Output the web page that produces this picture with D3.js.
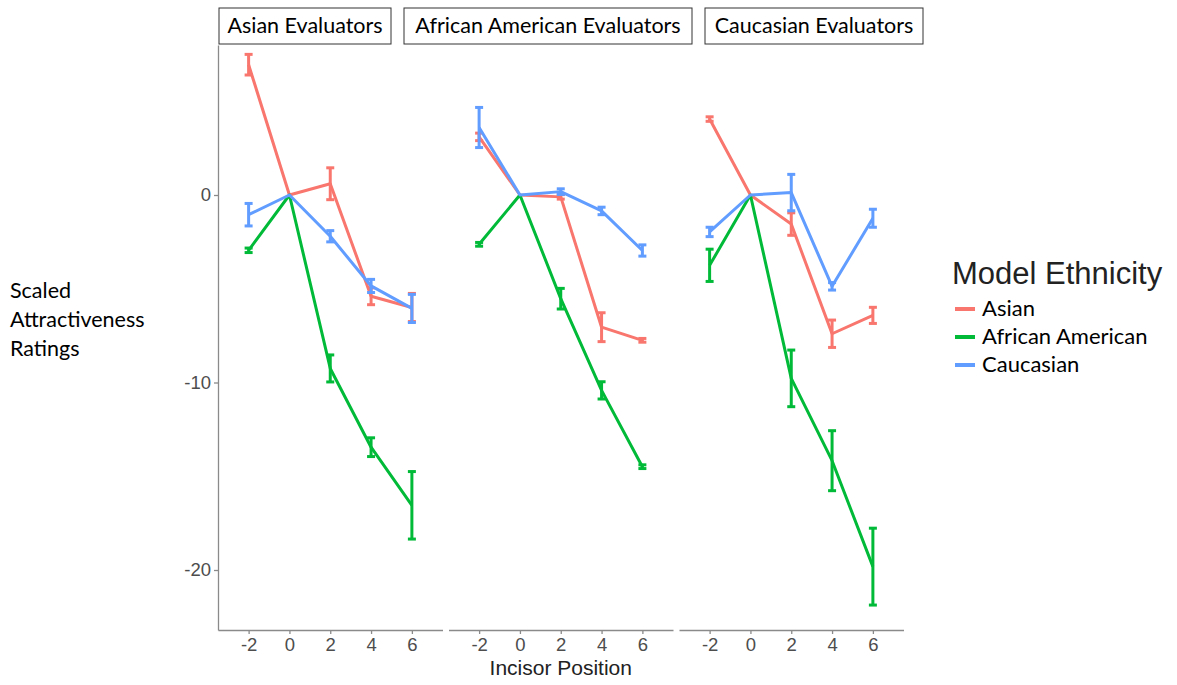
<!DOCTYPE html>
<html>
<head>
<meta charset="utf-8">
<script src="https://cdn.jsdelivr.net/npm/d3@7"></script>
<style>
  html, body { margin: 0; padding: 0; background: #fff; }
  svg { display: block; }
</style>
</head>
<body>
<svg id="chart" width="1177" height="685"></svg>
<script>
// Facets, x positions and series
const evaluators = ["Asian Evaluators", "African American Evaluators", "Caucasian Evaluators"];
const incisorPositions = [-2, 0, 2, 4, 6];
const modelEthnicities = ["Asian", "African American", "Caucasian"];
const ethnicityColors = ["#F8766D", "#00BA38", "#619CFF"];
const yTicks = [0, -10, -20];

// Mean scaled ratings, one row per model ethnicity (Asian, African American, Caucasian)
const meansAsianEval = [
  [6.95, 0, 0.6, -5.4, -6.0],
  [-2.95, 0, -9.25, -13.45, -16.55],
  [-1.05, 0, -2.2, -4.85, -6.05]
];
const errAsianEval = [
  [0.55, 0, 0.85, 0.45, 0.75],
  [0.12, 0, 0.72, 0.5, 1.8],
  [0.6, 0, 0.3, 0.35, 0.75]
];
const meansAfricanAmericanEval = [
  [3.1, 0, -0.1, -7.05, -7.75],
  [-2.63, 0, -5.53, -10.42, -14.49],
  [3.6, 0, 0.18, -0.85, -2.96]
];
const errAfricanAmericanEval = [
  [0.2, 0, 0.12, 0.77, 0.1],
  [0.1, 0, 0.55, 0.46, 0.1],
  [1.07, 0, 0.15, 0.2, 0.3]
];
const meansCaucasianEval = [
  [4.05, 0, -1.55, -7.4, -6.42],
  [-3.75, 0, -9.78, -14.17, -19.82],
  [-1.97, 0, 0.13, -4.87, -1.24]
];
const errCaucasianEval = [
  [0.12, 0, 0.6, 0.73, 0.43],
  [0.86, 0, 1.51, 1.6, 2.05],
  [0.25, 0, 0.97, 0.2, 0.48]
];

const panelMeans = [meansAsianEval, meansAfricanAmericanEval, meansCaucasianEval];
const panelErrs = [errAsianEval, errAfricanAmericanEval, errCaucasianEval];

// Layout
const svg = d3.select("#chart");
const panelTop = 45, panelBottom = 630;
const panelLefts = [218, 448.5, 679];
const panelWidth = 224.5;
const axisColor = "#8a8a8a";
const tickTextColor = "#4d4d4d";
const sansFont = "'Liberation Sans', Arial, sans-serif";
const labelFont = "Lato, 'Open Sans', sans-serif";
const plainNumber = d => String(d); // ASCII hyphen for negatives

const y = d3.scaleLinear().domain([-23.2, 8.0]).range([panelBottom, panelTop]);

evaluators.forEach((name, p) => {
  const x = d3.scaleLinear().domain([-3.5, 7.5]).range([panelLefts[p], panelLefts[p] + panelWidth]);
  const g = svg.append("g");

  // x axis
  const xAxis = d3.axisBottom(x).tickValues(incisorPositions).tickFormat(plainNumber)
    .tickSize(4).tickPadding(4).tickSizeOuter(0);
  const gx = g.append("g").attr("transform", `translate(0,${panelBottom})`).call(xAxis);
  gx.select(".domain").attr("stroke", axisColor).attr("stroke-width", 1.3);
  gx.selectAll(".tick line").attr("stroke", axisColor).attr("stroke-width", 1.3);
  gx.selectAll(".tick text")
    .attr("fill", tickTextColor)
    .style("font-family", sansFont)
    .style("font-size", "18.5px");

  // y axis on the first panel only
  if (p === 0) {
    const yAxis = d3.axisLeft(y).tickValues(yTicks).tickFormat(plainNumber)
      .tickSize(4).tickPadding(3).tickSizeOuter(0);
    const gy = g.append("g").attr("transform", `translate(${panelLefts[0]},0)`).call(yAxis);
    gy.select(".domain").attr("stroke", axisColor).attr("stroke-width", 1.3);
    gy.selectAll(".tick line").attr("stroke", axisColor).attr("stroke-width", 1.3);
    gy.selectAll(".tick text")
      .attr("fill", tickTextColor)
      .style("font-family", sansFont)
      .style("font-size", "18.5px");
  }

  const line = d3.line().x((d, i) => x(incisorPositions[i])).y(d => y(d));

  modelEthnicities.forEach((eth, s) => {
    const means = panelMeans[p][s];
    const errs = panelErrs[p][s];
    const color = ethnicityColors[s];

    g.append("path")
      .datum(means)
      .attr("d", line)
      .attr("fill", "none")
      .attr("stroke", color)
      .attr("stroke-width", 3)
      .attr("stroke-linejoin", "round");

    const bars = g.append("g");
    means.forEach((m, i) => {
      const e = errs[i];
      if (e <= 0) return;
      const cx = x(incisorPositions[i]);
      const y1 = y(m + e), y2 = y(m - e);
      bars.append("line").attr("x1", cx).attr("x2", cx).attr("y1", y1).attr("y2", y2)
        .attr("stroke", color).attr("stroke-width", 3);
      [y1, y2].forEach(yy => {
        bars.append("line").attr("x1", cx - 4).attr("x2", cx + 4).attr("y1", yy).attr("y2", yy)
          .attr("stroke", color).attr("stroke-width", 3);
      });
    });
  });
});

// Facet strip labels in boxes
const strips = [
  { x0: 219, x1: 391 },
  { x0: 404, x1: 692 },
  { x0: 705, x1: 923 }
];
evaluators.forEach((name, p) => {
  const s = strips[p];
  svg.append("rect")
    .attr("x", s.x0).attr("y", 8).attr("width", s.x1 - s.x0).attr("height", 36)
    .attr("fill", "#fff").attr("stroke", "#333").attr("stroke-width", 1);
  svg.append("text")
    .attr("x", (s.x0 + s.x1) / 2).attr("y", 33)
    .attr("text-anchor", "middle")
    .style("font-family", labelFont).style("font-size", "21.5px").attr("fill", "#000")
    .text(name);
});

// Axis titles
svg.append("text")
  .attr("x", (panelLefts[0] + panelLefts[2] + panelWidth) / 2).attr("y", 675)
  .attr("text-anchor", "middle")
  .style("font-family", sansFont).style("font-size", "21px").attr("fill", "#222")
  .text("Incisor Position");

const yTitle = svg.append("text")
  .style("font-family", labelFont).style("font-size", "21.5px").attr("fill", "#000");
["Scaled", "Attractiveness", "Ratings"].forEach((t, i) => {
  yTitle.append("tspan").attr("x", 10).attr("y", 298 + i * 29).text(t);
});

// Legend
const legend = svg.append("g");
legend.append("text")
  .attr("x", 952).attr("y", 284)
  .style("font-family", sansFont).style("font-size", "31px").attr("fill", "#222")
  .text("Model Ethnicity");
modelEthnicities.forEach((eth, i) => {
  const ly = 309 + i * 28;
  legend.append("line")
    .attr("x1", 955).attr("x2", 975).attr("y1", ly).attr("y2", ly)
    .attr("stroke", ethnicityColors[i]).attr("stroke-width", 4);
  legend.append("text")
    .attr("x", 982).attr("y", ly + 7)
    .style("font-family", labelFont).style("font-size", "22px").attr("fill", "#000")
    .text(eth);
});
</script>
</body>
</html>
